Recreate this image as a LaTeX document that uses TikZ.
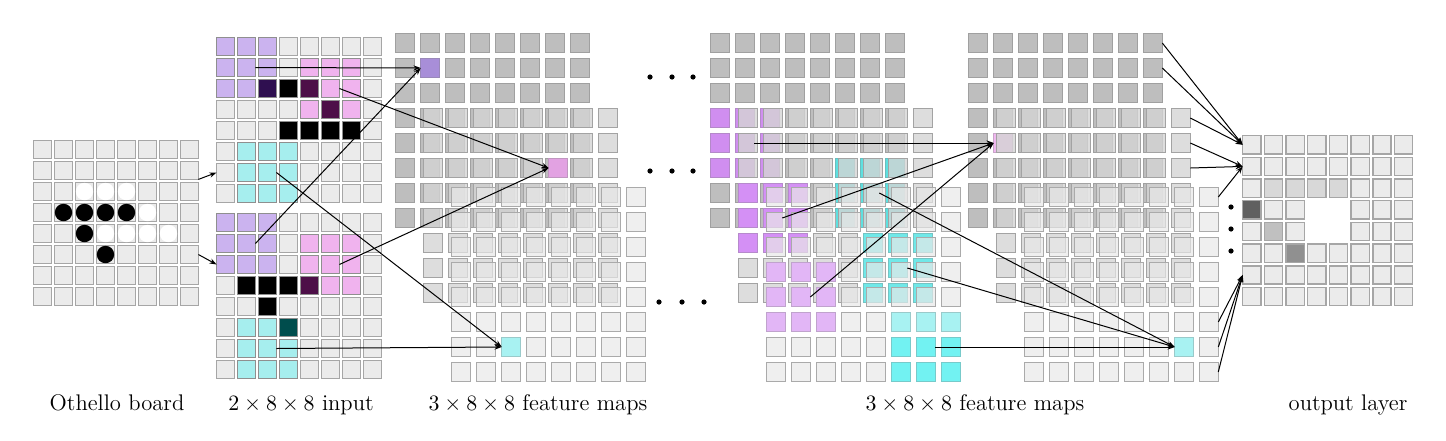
\documentclass[tikz,border=0pt]{standalone}
\usetikzlibrary{arrows.meta}
\definecolor{bg}{HTML}{EBEBEB}
\definecolor{ln}{HTML}{A6A6A6}
\definecolor{hlln}{HTML}{8F8F8F}
\definecolor{gone}{HTML}{BEBEBE}
\definecolor{gonel}{HTML}{A0A0A0}
\definecolor{gtwo}{HTML}{D4D4D4}
\definecolor{gtwol}{HTML}{A3A3A3}
\definecolor{gthree}{HTML}{E8E8E8}
\definecolor{gthreel}{HTML}{AAAAAA}
\definecolor{lav}{HTML}{CBB3EF}
\definecolor{dpurp}{HTML}{2F0F50}
\definecolor{pnk}{HTML}{F0B3EE}
\definecolor{dmag}{HTML}{4D0F48}
\definecolor{cyn}{HTML}{A6EEEE}
\definecolor{dteal}{HTML}{004D4D}
\definecolor{purA}{HTML}{A88ED8}
\definecolor{pnkA}{HTML}{E2A2E2}
\definecolor{cynA}{HTML}{A8F2F2}
\definecolor{purB}{HTML}{D08EF0}
\definecolor{purBB}{HTML}{D490F5}
\definecolor{purBC}{HTML}{E2B6F6}
\definecolor{cynB}{HTML}{5EE0E0}
\definecolor{cynBB}{HTML}{70E8E8}
\definecolor{cynBC}{HTML}{72F2F2}
\definecolor{pnkC}{HTML}{F0B8F0}
\definecolor{og1}{HTML}{D8D8D8}
\definecolor{og2}{HTML}{606060}
\definecolor{og3}{HTML}{C0C0C0}
\definecolor{og4}{HTML}{909090}
\tikzset{
 sq/.style={rectangle,inner sep=0pt,outer sep=0pt,line width=0.7pt},
 scell/.style={sq,minimum size=8.9pt,draw=ln,fill=bg},
 hcell/.style={sq,minimum size=8.9pt,draw=hlln,fill=#1},
 fone/.style={sq,minimum size=9.3pt,draw=gonel,fill=gone},
 ftwo/.style={sq,minimum size=9.3pt,draw=gtwol,fill=gtwo,fill opacity=0.8},
 fthree/.style={sq,minimum size=9.3pt,draw=gthreel,fill=gthree,fill opacity=0.7},
 fhl/.style={sq,minimum size=9.3pt,draw=#1!65!gray,fill=#1},
 ocell/.style={sq,minimum size=9.1pt,draw=ln,fill=bg},
 ohl/.style={sq,minimum size=9.1pt,draw=ln,fill=#1},
 piece/.style={circle,inner sep=0pt,minimum size=8.7pt},
 arr/.style={-{Stealth[length=3.6pt,width=2.6pt]},line width=0.5pt},
 bigdot/.style={circle,fill=black,inner sep=0pt,minimum size=2.6pt},
 lbl/.style={font=\fontsize{11.3}{13}\selectfont,anchor=base,inner sep=0pt},
}
\newcommand\mkgrid[5]{\foreach \r in {0,...,7}{\foreach \c in {0,...,7}{\node[#5] (#1-\r-\c) at ({#2+#4*\c},{#3+#4*\r}) {};}}}
\newcommand\mkhl[3]{\foreach \r/\c in {#2}{\node[#3] (#1-\r-\c-h) at (#1-\r-\c) {};}}
\begin{document}
\begin{tikzpicture}[x=0.5pt,y=-0.5pt]
\useasboundingbox (0,0) rectangle (1446,440);
% Othello board
\mkgrid{b}{42.5}{149.5}{21}{scell}
\foreach \r/\c in {3/1,3/2,3/3,3/4,4/2,5/3}{\node[piece,fill=black] (bp-\r-\c) at (b-\r-\c) {};}
\foreach \r/\c in {2/2,2/3,2/4,3/5,4/3,4/4,4/5,4/6}{\node[piece,fill=white] (wp-\r-\c) at (b-\r-\c) {};}
% input 1 (white pieces)
\mkgrid{in1}{225.5}{46.5}{21}{scell}
\mkhl{in1}{0/0,0/1,0/2,1/0,1/1,1/2,2/0,2/1}{hcell=lav}
\mkhl{in1}{2/2}{hcell=dpurp}
\mkhl{in1}{2/3,4/3,4/4,4/5,4/6}{hcell=black}
\mkhl{in1}{2/4,3/5}{hcell=dmag}
\mkhl{in1}{1/4,1/5,1/6,2/5,2/6,3/4,3/6}{hcell=pnk}
\mkhl{in1}{5/1,5/2,5/3,6/1,6/2,6/3,7/1,7/2,7/3}{hcell=cyn}
% input 2 (black pieces)
\mkgrid{in2}{225.5}{222.5}{21}{scell}
\mkhl{in2}{0/0,0/1,0/2,1/0,1/1,1/2,2/0,2/1,2/2}{hcell=lav}
\mkhl{in2}{3/1,3/2,3/3,4/2}{hcell=black}
\mkhl{in2}{3/4}{hcell=dmag}
\mkhl{in2}{1/4,1/5,1/6,2/4,2/5,2/6,3/5,3/6}{hcell=pnk}
\mkhl{in2}{5/1,5/2,6/1,6/2,6/3,7/1,7/2,7/3}{hcell=cyn}
\mkhl{in2}{5/3}{hcell=dteal}
% feature maps A
\mkgrid{gA1}{405}{43}{25}{fone}
\mkhl{gA1}{1/1}{fhl=purA}
\mkgrid{gA2}{433}{118}{25}{ftwo}
\mkhl{gA2}{2/5}{fhl=pnkA}
\mkgrid{gA3}{461}{197}{25}{fthree}
\mkhl{gA3}{6/2}{fhl=cynA}
% feature maps B
\mkgrid{gB1}{720}{43}{25}{fone}
\mkhl{gB1}{3/0,3/1,3/2,4/0,4/1,4/2,5/0,5/1,5/2}{fhl=purB}
\mkhl{gB1}{5/5,5/6,5/7,6/5,6/6,6/7,7/5,7/6,7/7}{fhl=cynB}
\mkgrid{gB2}{748}{118}{25}{ftwo}
\mkhl{gB2}{3/0,3/1,3/2,4/0,4/1,4/2,5/0,5/1,5/2}{fhl=purBB}
\mkhl{gB2}{5/5,5/6,5/7,6/5,6/6,6/7,7/5,7/6,7/7}{fhl=cynBB}
\mkgrid{gB3}{776}{197}{25}{fthree}
\mkhl{gB3}{3/0,3/1,3/2,4/0,4/1,4/2,5/0,5/1,5/2}{fhl=purBC}
\mkhl{gB3}{5/5,5/6,5/7}{fhl=cynA}
\mkhl{gB3}{6/5,6/6,6/7,7/5,7/6,7/7}{fhl=cynBC}
% feature maps C
\mkgrid{gC1}{978}{43}{25}{fone}
\mkhl{gC1}{4/1}{fhl=pnkC}
\mkgrid{gC2}{1006}{118}{25}{ftwo}
\mkgrid{gC3}{1034}{197}{25}{fthree}
\mkhl{gC3}{6/6}{fhl=cynA}
% output layer
\foreach \r in {0,...,7}{\foreach \c in {0,...,7}{
  \pgfmathtruncatemacro\skipit{(\r>2)&&(\r<5)&&(\c>2)&&(\c<5)}
  \ifnum\skipit=0 \node[ocell] (out-\r-\c) at ({1251.75+21.7*\c},{144.75+21.7*\r}) {};\fi}}
\mkhl{out}{2/1,2/2,2/3,2/4}{ohl=og1}
\mkhl{out}{3/0}{ohl=og2}
\mkhl{out}{4/1}{ohl=og3}
\mkhl{out}{5/2}{ohl=og4}
% dots
\foreach \i/\x in {1/650,2/672,3/693}{
  \node[bigdot] (da-\i) at (\x,77) {};
  \node[bigdot] (db-\i) at (\x,171) {};}
\foreach \i/\x in {1/659,2/682,3/704}{\node[bigdot] (dc-\i) at (\x,302) {};}
\foreach \i/\y in {1/207,2/229,3/251}{\node[bigdot] (dv-\i) at (1231,\y) {};}
% connectors
\draw[arr] (b-1-7.south east) -- (in1-6-0.west);
\draw[arr] (b-5-7.east) -- (in2-2-0.west);
\draw[arr] (in1-1-1.east) -- (gA1-1-1.west);
\draw[arr] (in2-1-1.east) -- (gA1-1-1.west);
\draw[arr] (in1-2-5.east) -- (gA2-2-5.west);
\draw[arr] (in2-2-5.east) -- (gA2-2-5.west);
\draw[arr] (in1-6-2.east) -- (gA3-6-2.west);
\draw[arr] (in2-6-2.east) -- (gA3-6-2.west);
\draw[arr] (gB1-4-1.east) -- (gC1-4-1.west);
\draw[arr] (gB2-4-1.east) -- (gC1-4-1.west);
\draw[arr] (gB3-4-1.east) -- (gC1-4-1.west);
\draw[arr] (gB1-6-6.east) -- (gC3-6-6.west);
\draw[arr] (gB2-6-6.east) -- (gC3-6-6.west);
\draw[arr] (gB3-6-6.east) -- (gC3-6-6.west);
\draw[arr] (gC1-0-7.east) -- (out-0-0.west);
\draw[arr] (gC1-1-7.east) -- (out-0-0.west);
\draw[arr] (gC2-0-7.east) -- (out-0-0.west);
\draw[arr] (gC2-1-7.east) -- (out-1-0.west);
\draw[arr] (gC2-2-7.east) -- (out-1-0.west);
\draw[arr] (gC3-0-7.east) -- (out-1-0.west);
\draw[arr] (gC3-5-7.east) -- (out-6-0.west);
\draw[arr] (gC3-6-7.east) -- (out-6-0.west);
\draw[arr] (gC3-7-7.east) -- (out-6-0.west);
% labels
\node[lbl] (l1) at (117,410) {Othello board};
\node[lbl] (l2) at (301,410) {$2\times8\times8$ input};
\node[lbl] (l3) at (538,410) {$3\times8\times8$ feature maps};
\node[lbl] (l4) at (975,410) {$3\times8\times8$ feature maps};
\node[lbl] (l5) at (1348,410) {output layer};
\end{tikzpicture}
\end{document}
